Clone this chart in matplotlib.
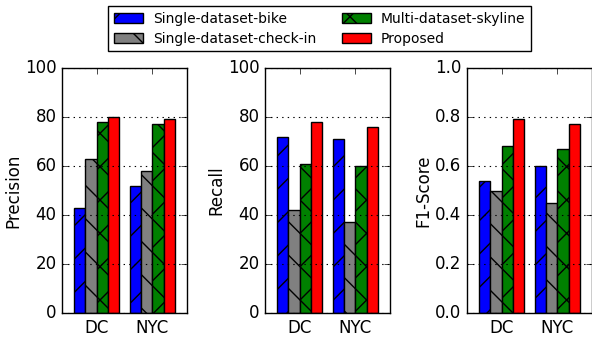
import matplotlib
matplotlib.use("Agg")
import matplotlib.pyplot as plt
import numpy as np

plt.style.use('classic')
plt.rcParams['font.family'] = ['DejaVu Sans']

cities = ["DC", "NYC"]
methods = ["Single-dataset-bike", "Single-dataset-check-in", "Multi-dataset-skyline", "Proposed"]
precision = [[43, 52], [63, 58], [78, 77], [80, 79]]
recall = [[72, 71], [42, 37], [61, 60], [78, 76]]
f1 = [[0.54, 0.60], [0.50, 0.45], [0.68, 0.67], [0.79, 0.77]]

colors = ["blue", "0.5", "green", "red"]
hatches = ["/", "\\", "x", ""]

fig = plt.figure(figsize=(5.92, 3.37), dpi=100, facecolor="white")
W, H = 592.0, 337.0
panels = [
    (precision, "Precision", 62, 100, [0, 20, 40, 60, 80, 100]),
    (recall, "Recall", 265, 100, [0, 20, 40, 60, 80, 100]),
    (f1, "F1-Score", 467, 1.0, [0.0, 0.2, 0.4, 0.6, 0.8, 1.0]),
]
x = np.arange(len(cities))
bw = 0.2
handles = []
for data, label, left, ymax, yt in panels:
    ax = fig.add_axes([left / W, (H - 313) / H, 125 / W, 245 / H])
    ax.set_facecolor("white")
    for i in range(4):
        b = ax.bar(x - 0.4 + i * bw, data[i], bw, align="edge", color=colors[i],
                   hatch=hatches[i], edgecolor="black", linewidth=1.0, label=methods[i])
        if len(handles) < 4:
            handles.append(b)
    ax.set_xlim(-0.62, 1.62)
    ax.set_ylim(0, ymax)
    ax.set_yticks(yt)
    if ymax == 1.0:
        ax.set_yticklabels(["%.1f" % v for v in yt])
    ax.set_xticks(x)
    ax.set_xticklabels(cities)
    ax.set_ylabel(label, fontsize=12, labelpad=2)
    ax.tick_params(labelsize=12)
    ax.yaxis.grid(True, linestyle=":", color="black", linewidth=0.8)
    ax.set_axisbelow(False)

fig.legend(handles, methods, loc="upper left", bbox_to_anchor=(108 / W, 1 - 6 / H),
           ncol=2, fontsize=10, frameon=True, handlelength=2.1, handletextpad=0.72,
           columnspacing=1.85, borderpad=0.4, labelspacing=0.45, borderaxespad=0)

fig.savefig("out.png", dpi=100, facecolor="white")
